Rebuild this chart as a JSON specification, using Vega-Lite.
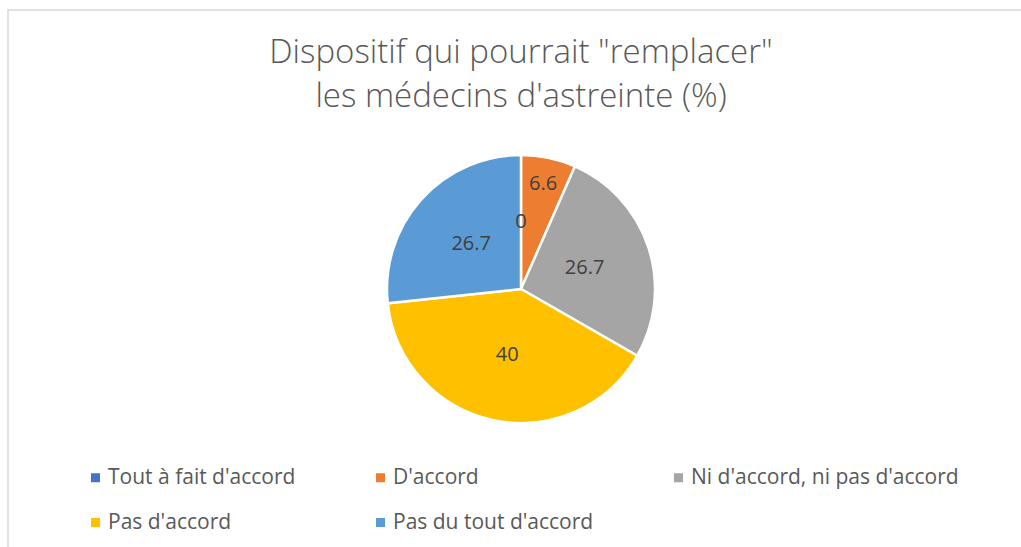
{
  "$schema": "https://vega.github.io/schema/vega-lite/v6.json",
  "width": 1026,
  "height": 558,
  "autosize": {"type": "none"},
  "padding": {"left": 8, "top": 10, "right": 0, "bottom": 0},
  "background": "white",
  "view": {"stroke": "#d9d9d9", "strokeWidth": 1.5, "fill": "white"},
  "config": {
    "font": "Open Sans"
  },
  "title": {
    "text": ["Dispositif qui pourrait \"remplacer\"", "les médecins d'astreinte (%)"],
    "orient": "top",
    "anchor": "middle",
    "frame": "group",
    "offset": -104,
    "fontSize": 33,
    "fontWeight": 300,
    "font": "Open Sans",
    "color": "#595959",
    "lineHeight": 44
  },
  "data": {
    "values": [
      {"cat": "Tout à fait d'accord", "val": 0, "idx": 1},
      {"cat": "D'accord", "val": 6.6, "idx": 2},
      {"cat": "Ni d'accord, ni pas d'accord", "val": 26.7, "idx": 3},
      {"cat": "Pas d'accord", "val": 40, "idx": 4},
      {"cat": "Pas du tout d'accord", "val": 26.7, "idx": 5}
    ]
  },
  "encoding": {
    "theta": {"field": "val", "type": "quantitative", "stack": true},
    "order": {"field": "idx", "type": "quantitative"}
  },
  "layer": [
    {
      "mark": {"type": "arc", "outerRadius": 134, "stroke": "white", "strokeWidth": 2.5},
      "encoding": {
        "color": {
          "field": "cat",
          "type": "nominal",
          "scale": {
            "domain": ["Tout à fait d'accord", "D'accord", "Ni d'accord, ni pas d'accord", "Pas d'accord", "Pas du tout d'accord"],
            "range": ["#4472C4", "#ED7D31", "#A5A5A5", "#FFC000", "#5B9BD5"]
          },
          "legend": {
            "title": null,
            "orient": "none",
            "legendX": 77,
            "legendY": 457,
            "direction": "horizontal",
            "columns": 3,
            "columnPadding": 74,
            "rowPadding": 23,
            "padding": 0,
            "symbolType": "square",
            "symbolSize": 81,
            "symbolStrokeWidth": 0,
            "symbolOpacity": 1,
            "labelFontSize": 21,
            "labelFont": "Open Sans",
            "labelColor": "#595959",
            "labelOffset": 2,
            "labelLimit": 400
          }
        }
      }
    },
    {
      "mark": {"type": "text", "fontSize": 20, "color": "#404040", "font": "Open Sans", "radius": 67},
      "encoding": {
        "text": {"condition": {"test": "datum.cat === \"D'accord\"", "value": ""}, "field": "val", "type": "quantitative"}
      }
    },
    {
      "mark": {"type": "text", "fontSize": 20, "color": "#404040", "font": "Open Sans", "radius": 107},
      "encoding": {
        "text": {"condition": {"test": "datum.cat !== \"D'accord\"", "value": ""}, "field": "val", "type": "quantitative"}
      }
    }
  ]
}
